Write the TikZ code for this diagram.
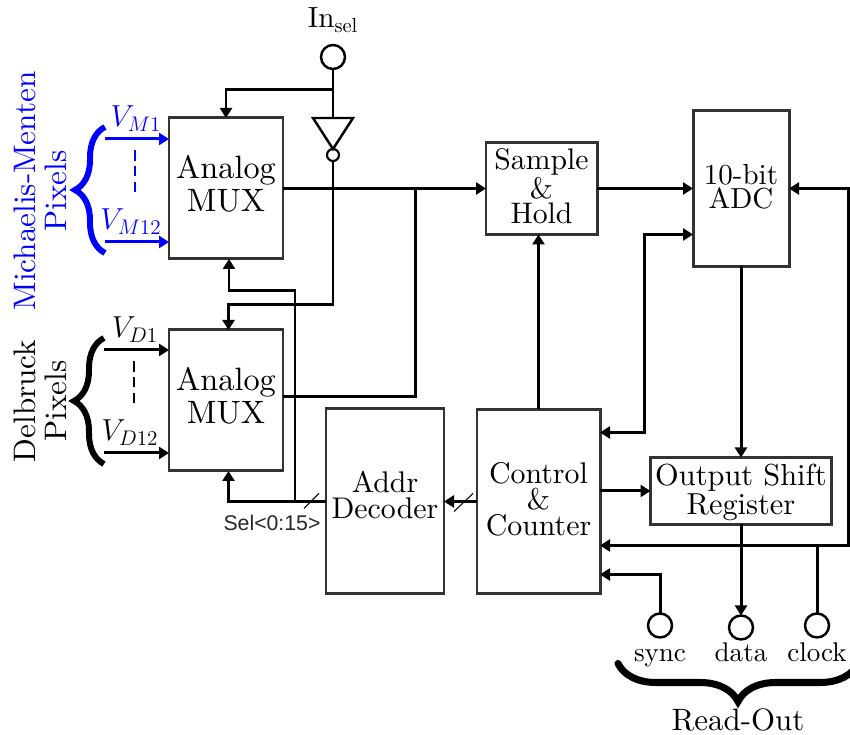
\documentclass[tikz,border=0pt]{standalone}
\usepackage{xcolor}
\usepackage{fontspec}
\usepackage{tikz}
\usetikzlibrary{arrows.meta,positioning,calc,shapes.geometric,decorations.pathreplacing}
\setmainfont{lmroman10-regular}[Extension=.otf]
\newfontfamily\selfont{Liberation Sans}

\begin{document}
\begin{tikzpicture}[
  box/.style={draw=black!80, line width=1.7pt, align=center, inner sep=0pt, outer sep=0pt, font=\fontsize{17}{14.8}\selectfont},
  mux/.style={box, minimum width=2.28cm, minimum height=2.82cm, text depth=.2cm, font=\fontsize{18.4}{18.6}\selectfont},
  pad/.style={draw, circle, line width=1.4pt, minimum size=.48cm, inner sep=0pt, outer sep=0pt},
  wire/.style={line width=1.7pt},
  arrow/.style={wire, -{Triangle[length=2mm,width=2.4mm]}},
  biarrow/.style={wire, {Triangle[length=2mm,width=2.4mm]}-{Triangle[length=2mm,width=2.4mm]}},
  tick/.style={line width=.6pt},
  lbl/.style={font=\fontsize{15.4}{15}\selectfont, inner sep=0pt},
  vlbl/.style={font=\fontsize{17.6}{18}\selectfont, inner sep=0pt},
  side/.style={font=\fontsize{17.7}{17.6}\selectfont, align=center, rotate=90, inner sep=0pt},
  bracket/.style={decorate, decoration={brace, amplitude=.6cm}, line width=3.4pt},
]
  \useasboundingbox (0,0) rectangle (17,14.7);

  \node[mux] (mux1) at (4.52,10.93) {Analog\\MUX};
  \node[mux, below=1.42cm of mux1] (mux2) {Analog\\MUX};
  \node[box, minimum width=2.22cm, minimum height=1.84cm, right=4.06cm of mux1, text depth=.1cm, font=\fontsize{16.9}{14.5}\selectfont] (sample) {Sample\\\&\\Hold};
  \node[box, minimum width=1.92cm, minimum height=3.12cm, right=1.92cm of sample, text depth=.1cm, font=\fontsize{16.5}{13.7}\selectfont] (adc) {10-bit\\ADC};
  \node[box, minimum width=2.46cm, minimum height=3.68cm, below=3.5cm of sample, xshift=-.06cm, text depth=.12cm] (control) {Control\\\&\\Counter};
  \node[box, minimum width=2.36cm, minimum height=3.7cm, left=.66cm of control, text depth=.26cm] (addr) {Addr\\Decoder};
  \node[box, minimum width=3.62cm, minimum height=1.34cm, below=3.82cm of adc, text depth=.08cm, font=\fontsize{17.3}{16.7}\selectfont] (shift) {Output Shift\\Register};

  \node[pad] (insel) at (6.66,13.56) {};
  \node[inner sep=0pt, font=\fontsize{16.6}{16}\selectfont, anchor=base] (insellbl) at ($(insel.north)+(0,.34)$) {In$_{\mathrm{sel}}$};
  \node[draw, isosceles triangle, isosceles triangle stretches, shape border rotate=-90, line width=1.4pt,
        minimum width=.8cm, minimum height=.62cm, inner sep=0pt, outer sep=0pt, below=.98cm of insel] (inv) {};
  \node[pad, minimum size=.24cm, line width=1.2pt, below=0cm of inv] (bubble) {};

  \node[pad, below=1.82cm of shift] (data) {};
  \node[pad, left=1.14cm of data, yshift=.04cm] (sync) {};
  \node[pad, right=1.04cm of data, yshift=.04cm] (clock) {};
  \node[lbl, anchor=base] (synclbl) at ($(sync.south)+(0,-.48)$) {sync};
  \node[lbl, anchor=base] (datalbl) at (synclbl.base -| data) {data};
  \node[lbl, anchor=base] (clocklbl) at (synclbl.base -| clock) {clock};
  \node[anchor=base, inner sep=0pt, font=\fontsize{17.6}{17}\selectfont] (readout) at ($(datalbl.base)+(-.06,-1.38)$) {Read-Out};

  % pixel inputs
  \coordinate (vm1) at ($(mux1.north west)+(-1.28,-.42)$);
  \coordinate (vm12) at ($(vm1)+(0,-2.06)$);
  \coordinate (vd1) at ($(mux2.north west)+(-1.3,-.4)$);
  \coordinate (vd12) at ($(vd1)+(0,-2.06)$);

  \draw[arrow, blue] (vm1) -- (vm1 -| mux1.west);
  \draw[arrow, blue] (vm12) -- (vm12 -| mux1.west);
  \draw[arrow] (vd1) -- (vd1 -| mux2.west);
  \draw[arrow] (vd12) -- (vd12 -| mux2.west);
  \draw[wire, blue, dashed, dash pattern=on 6pt off 3pt] ($(vm1)+(.6,-.22)$) -- ($(vm12)+(.6,.9)$);
  \draw[wire, dashed, dash pattern=on 6pt off 3pt] ($(vd1)+(.6,-.22)$) -- ($(vd12)+(.6,.9)$);

  \node[vlbl, blue, anchor=base] (vm1lbl) at ($(vm1)+(.62,.24)$) {$V_{M1}$};
  \node[vlbl, blue, anchor=base] (vm12lbl) at ($(vm12)+(.52,.24)$) {$V_{M12}$};
  \node[vlbl, anchor=base] (vd1lbl) at ($(vd1)+(.62,.24)$) {$V_{D1}$};
  \node[vlbl, anchor=base] (vd12lbl) at ($(vd12)+(.52,.24)$) {$V_{D12}$};

  \draw[bracket, blue] ($(vm12)+(0,-.22)$) -- ($(vm1)+(0,.24)$);
  \draw[bracket] ($(vd12)+(0,-.22)$) -- ($(vd1)+(0,.24)$);
  \node[side, blue] (mmlbl) at (.8,10.88) {Michaelis-Menten\\Pixels};
  \node[side] (dlbl) at (.8,6.68) {Delbruck\\Pixels};

  % select line
  \draw[wire] (insel) -- (inv);
  \draw[arrow] ($(insel.south)+(0,-.42)$) -| (mux1.north);
  \draw[arrow] (bubble.south) -- ++(0,-2.88) -| ([xshift=.05cm]mux2.north);

  % signal path
  \draw[arrow] (mux1.east) -- (sample.west);
  \draw[wire] ([yshift=.08cm]mux2.east) -| ($(mux1.east)!.655!(sample.west)$);
  \draw[arrow] (sample.east) -- (adc.west);
  \draw[arrow] (control.north) -- (control.north |- sample.south);
  \draw[arrow] (adc.south) -- (shift.north);
  \draw[arrow] (shift.south) -- (data.north);
  \draw[arrow] (shift.west -| control.east) -- (shift.west);
  \draw[biarrow] ([yshift=-.92cm]adc.west) -- ++(-.98,0) |- ([yshift=1.38cm]control.east);

  % address
  \draw[arrow] (control.west) -- (addr.east);
  \draw[arrow] (addr.west) -| ([xshift=.05cm]mux2.south);
  \draw[arrow] ($(addr.west)+(-.62,0)$) -- ++(0,4.22) -| ([xshift=.06cm]mux1.south);
  \draw[tick] ($(addr.west)+(-.44,-.14)$) -- ++(.3,.3);
  \draw[tick] ($(control.west)+(-.46,-.2)$) -- ++(.38,.36);
  \node[inner sep=0pt, font=\selfont\fontsize{12.1}{12}\selectfont, text=black!85] (sellbl) at ($(addr.west)+(-1.08,-.42)$) {Sel<0:15>};

  % read-out
  \coordinate (clkjoin) at ($(control.east)+(0,-.88)$);
  \draw[biarrow] (adc.east) -- ++(1.18,0) |- (clkjoin);
  \draw[wire] (clock.north) -- (clock.north |- clkjoin);
  \draw[arrow] (sync.north) |- ([yshift=-1.46cm]control.east);

  \coordinate (rostart) at ($(datalbl.base)+(2.34,-.04)$);
  \coordinate (roend) at ($(datalbl.base)+(-2.46,-.04)$);
  \draw[decorate, decoration={brace, amplitude=.76cm}, line width=4pt, line cap=round] (rostart) -- (roend);
\end{tikzpicture}
\end{document}
